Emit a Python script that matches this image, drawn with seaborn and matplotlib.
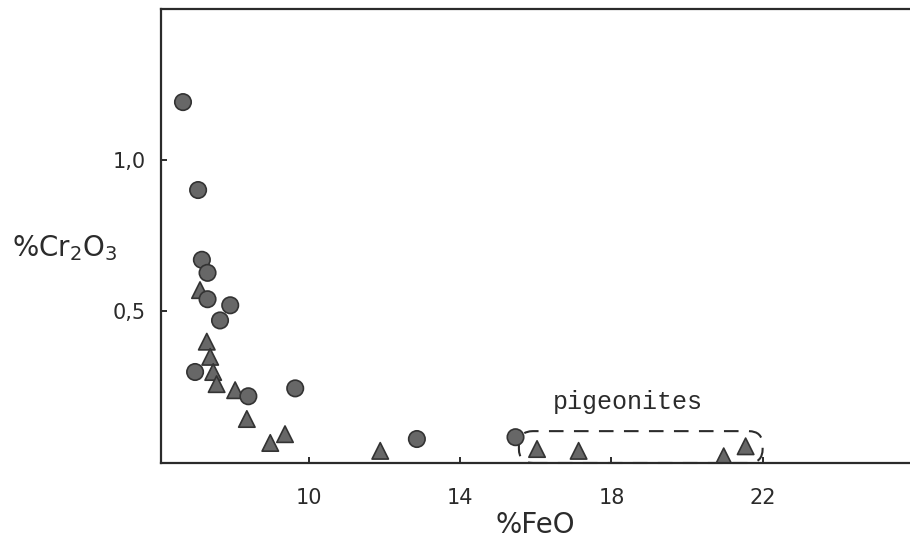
import numpy as np
import pandas as pd
import matplotlib
matplotlib.use("Agg")
import matplotlib.pyplot as plt
from matplotlib.patches import FancyBboxPatch
import seaborn as sns

# Pyroxene analyses: FeO vs Cr2O3 (wt %)
tri_feo = [7.11, 7.29, 7.38, 7.46, 7.55, 8.04, 8.35, 8.97, 9.36, 11.88, 16.03, 17.13, 20.97, 21.55]
tri_cr = [0.57, 0.40, 0.35, 0.30, 0.26, 0.24, 0.145, 0.066, 0.095, 0.040, 0.046, 0.040, 0.022, 0.055]
circ_feo = [6.66, 7.06, 7.16, 7.31, 7.31, 7.91, 7.64, 6.98, 8.39, 9.63, 12.85, 15.46]
circ_cr = [1.19, 0.90, 0.67, 0.627, 0.54, 0.52, 0.47, 0.30, 0.22, 0.246, 0.079, 0.085]

x_ticks = [10, 14, 18, 22]
x_tick_labels = ["10", "14", "18", "22"]
y_ticks = [0.5, 1.0]
y_tick_labels = ["0,5", "1,0"]

# pigeonite group outline (data units)
pig_x = (15.55, 22.0)
pig_y = (0.0, 0.105)

df = pd.DataFrame({
    "FeO": tri_feo + circ_feo,
    "Cr2O3": tri_cr + circ_cr,
    "kind": ["tri"] * len(tri_feo) + ["circ"] * len(circ_feo),
})

sns.set_theme(style="white")
plt.rcParams["font.family"] = ["DejaVu Sans"]
plt.rcParams["mathtext.default"] = "regular"

ink = "#2b2b2b"
fig = plt.figure(figsize=(9.10, 5.45), dpi=100)
ax = fig.add_axes([0.177, 0.1505, 0.823, 0.833])

sns.scatterplot(data=df, x="FeO", y="Cr2O3", style="kind",
                markers={"tri": "^", "circ": "o"}, color="#676767",
                edgecolor="#333333", linewidth=1.2, s=140, legend=False,
                ax=ax, zorder=3)

ax.set_xlim(6.08, 25.9)
ax.set_ylim(0, 1.497)

for side in ["left", "bottom", "top"]:
    ax.spines[side].set_color(ink)
    ax.spines[side].set_linewidth(1.6)
    ax.spines[side].set_zorder(4)
ax.spines["right"].set_visible(False)

ax.set_xticks(x_ticks)
ax.set_xticklabels(x_tick_labels)
ax.set_yticks(y_ticks)
ax.set_yticklabels(y_tick_labels)
ax.tick_params(axis="both", which="major", bottom=True, left=True, top=False, right=False,
               direction="in", length=4, width=1.4, color=ink,
               labelsize=15, labelcolor=ink)
ax.tick_params(axis="x", pad=18)
ax.tick_params(axis="y", pad=11)

ax.set_xlabel("%FeO", fontsize=20, color=ink, labelpad=2)
ax.set_ylabel("")
fig.text(0.013, 0.545, "%Cr$_2$O$_3$", fontsize=20, color=ink, ha="left", va="center")

# dashed rounded outline around the pigeonites
fig.canvas.draw()
px_x = ax.transData.transform((1, 0))[0] - ax.transData.transform((0, 0))[0]
px_y = ax.transData.transform((0, 1))[1] - ax.transData.transform((0, 0))[1]
radius_px = 14
r = radius_px / px_x
box = FancyBboxPatch((pig_x[0], pig_y[0]), pig_x[1] - pig_x[0], pig_y[1] - pig_y[0],
                     boxstyle=f"round,pad=0,rounding_size={r}",
                     mutation_aspect=px_x / px_y, transform=ax.transData,
                     fill=False, edgecolor=ink, linewidth=1.5,
                     linestyle=(0, (7, 5)), clip_on=False, zorder=2)
ax.add_patch(box)
ax.text(18.42, 0.20, "pigeonites", family="Liberation Mono", fontsize=18,
        color=ink, ha="center", va="center")

fig.savefig("out.png", dpi=100, facecolor="white")
